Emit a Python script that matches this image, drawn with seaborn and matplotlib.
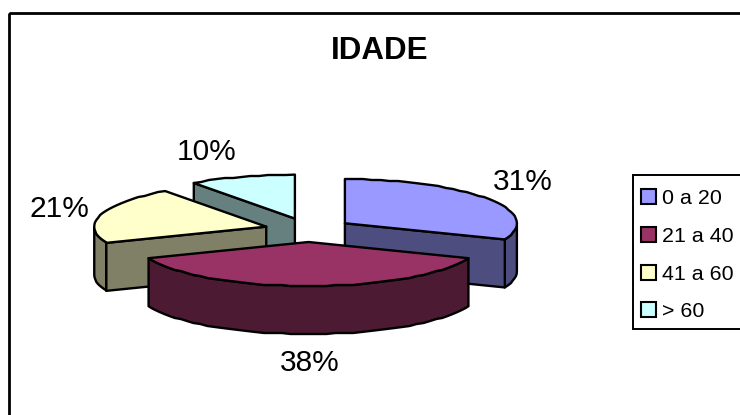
import numpy as np
import matplotlib
matplotlib.use('Agg')
import matplotlib.pyplot as plt
import seaborn as sns
from matplotlib.patches import Patch, Rectangle

# dados
faixas = ['0 a 20', '21 a 40', '41 a 60', '> 60']
valores = [31, 38, 21, 10]
rotulos = ['31%', '38%', '21%', '10%']
cores = ['#9999FF', '#993366', '#FFFFCC', '#CCFFFF']
titulo = 'IDADE'

# geometria da pizza 3D, em pixels da figura
CX, CY = 308.5, 230
RX, RY = 172, 44
ALTURA = 48
EXPL_X, EXPL_Y = 44, 12
POS_ROTULOS = [(523, 182), (310, 363), (59, 209), (207, 152)]
ORDEM = [3, 2, 0, 1]  # de tras para frente
LW = 1.7


def ponto(cx, cy, ang):
    """
    angulo em graus, horario a partir das 12 horas
    """
    a = np.deg2rad(ang)
    return cx + RX * np.sin(a), cy - RY * np.cos(a)


def desenha_fatia(ax, ini, fim, cor):
    meio = np.deg2rad((ini + fim) / 2)
    cx = CX + EXPL_X * np.sin(meio)
    cy = CY - EXPL_Y * np.cos(meio)
    escura = tuple(c * 0.5 for c in matplotlib.colors.to_rgb(cor))
    kw = dict(facecolor=escura, edgecolor='black', linewidth=LW, joinstyle='round')

    # arco em poucos vertices arredondados, deixa o contorno meio serrilhado
    angs = np.r_[ini, np.arange(np.ceil(ini / 3) * 3, fim, 3), fim]
    xs, ys = ponto(cx, cy, angs)
    ys[1:-1] = np.round(ys[1:-1])

    # parede externa, so a parte da frente (90 a 270 graus)
    frente = (angs >= 90) & (angs <= 270)
    if frente.any():
        fx, fy = xs[frente], ys[frente]
        ax.fill(np.r_[fx, fx[::-1]], np.r_[fy, fy[::-1] + ALTURA], **kw)

    # faces de corte, so as viradas para quem olha
    visiveis = []
    if np.sin(np.deg2rad(ini)) < -1e-6:
        visiveis.append(ini)
    if np.sin(np.deg2rad(fim)) > 1e-6:
        visiveis.append(fim)
    for ang in visiveis:
        x, y = ponto(cx, cy, ang)
        ax.fill([cx, x, x, cx], [cy, y, y + ALTURA, cy + ALTURA], **kw)

    # tampo
    ax.fill(np.r_[cx, xs], np.r_[cy, ys], facecolor=cor, edgecolor='black',
            linewidth=LW, joinstyle='round')


def main():
    sns.set_theme(style='white')
    plt.rcParams['font.family'] = ['Liberation Sans', 'DejaVu Sans']

    fig = plt.figure(figsize=(7.4, 4.15), dpi=100)
    ax = fig.add_axes([0, 0, 1, 1])
    ax.set_xlim(0, 740)
    ax.set_ylim(415, 0)
    ax.axis('off')

    # moldura do grafico, cortada na direita e embaixo
    ax.add_patch(Rectangle((9, 13), 800, 500, fill=False, edgecolor='black', linewidth=2))

    limites = np.cumsum([0] + valores) * 360 / sum(valores)
    for i in ORDEM:
        desenha_fatia(ax, limites[i], limites[i + 1], cores[i])

    for txt, (x, y) in zip(rotulos, POS_ROTULOS):
        ax.text(x, y, txt, fontsize=21.5, color='black', ha='center', va='center')
    ax.text(380, 51, titulo, fontsize=22.5, fontweight='bold', color='black', ha='center', va='center')

    # legenda
    ax.add_patch(Rectangle((633, 175), 200, 154, facecolor='white', edgecolor='black', linewidth=1.4))
    alcas = [Patch(facecolor=c, edgecolor='black', linewidth=1.5) for c in cores]
    ax.legend(alcas, faixas, loc='upper left', bbox_to_anchor=(641 / 740, 1 - 189 / 415),
              frameon=False, fontsize=15.4, handlelength=0.7, handleheight=0.7,
              handletextpad=0.3, labelspacing=0.88, borderpad=0, borderaxespad=0, labelcolor='black')

    sns.despine(ax=ax, left=True, bottom=True)
    fig.savefig('out.png', dpi=100)


if __name__ == '__main__':
    main()
